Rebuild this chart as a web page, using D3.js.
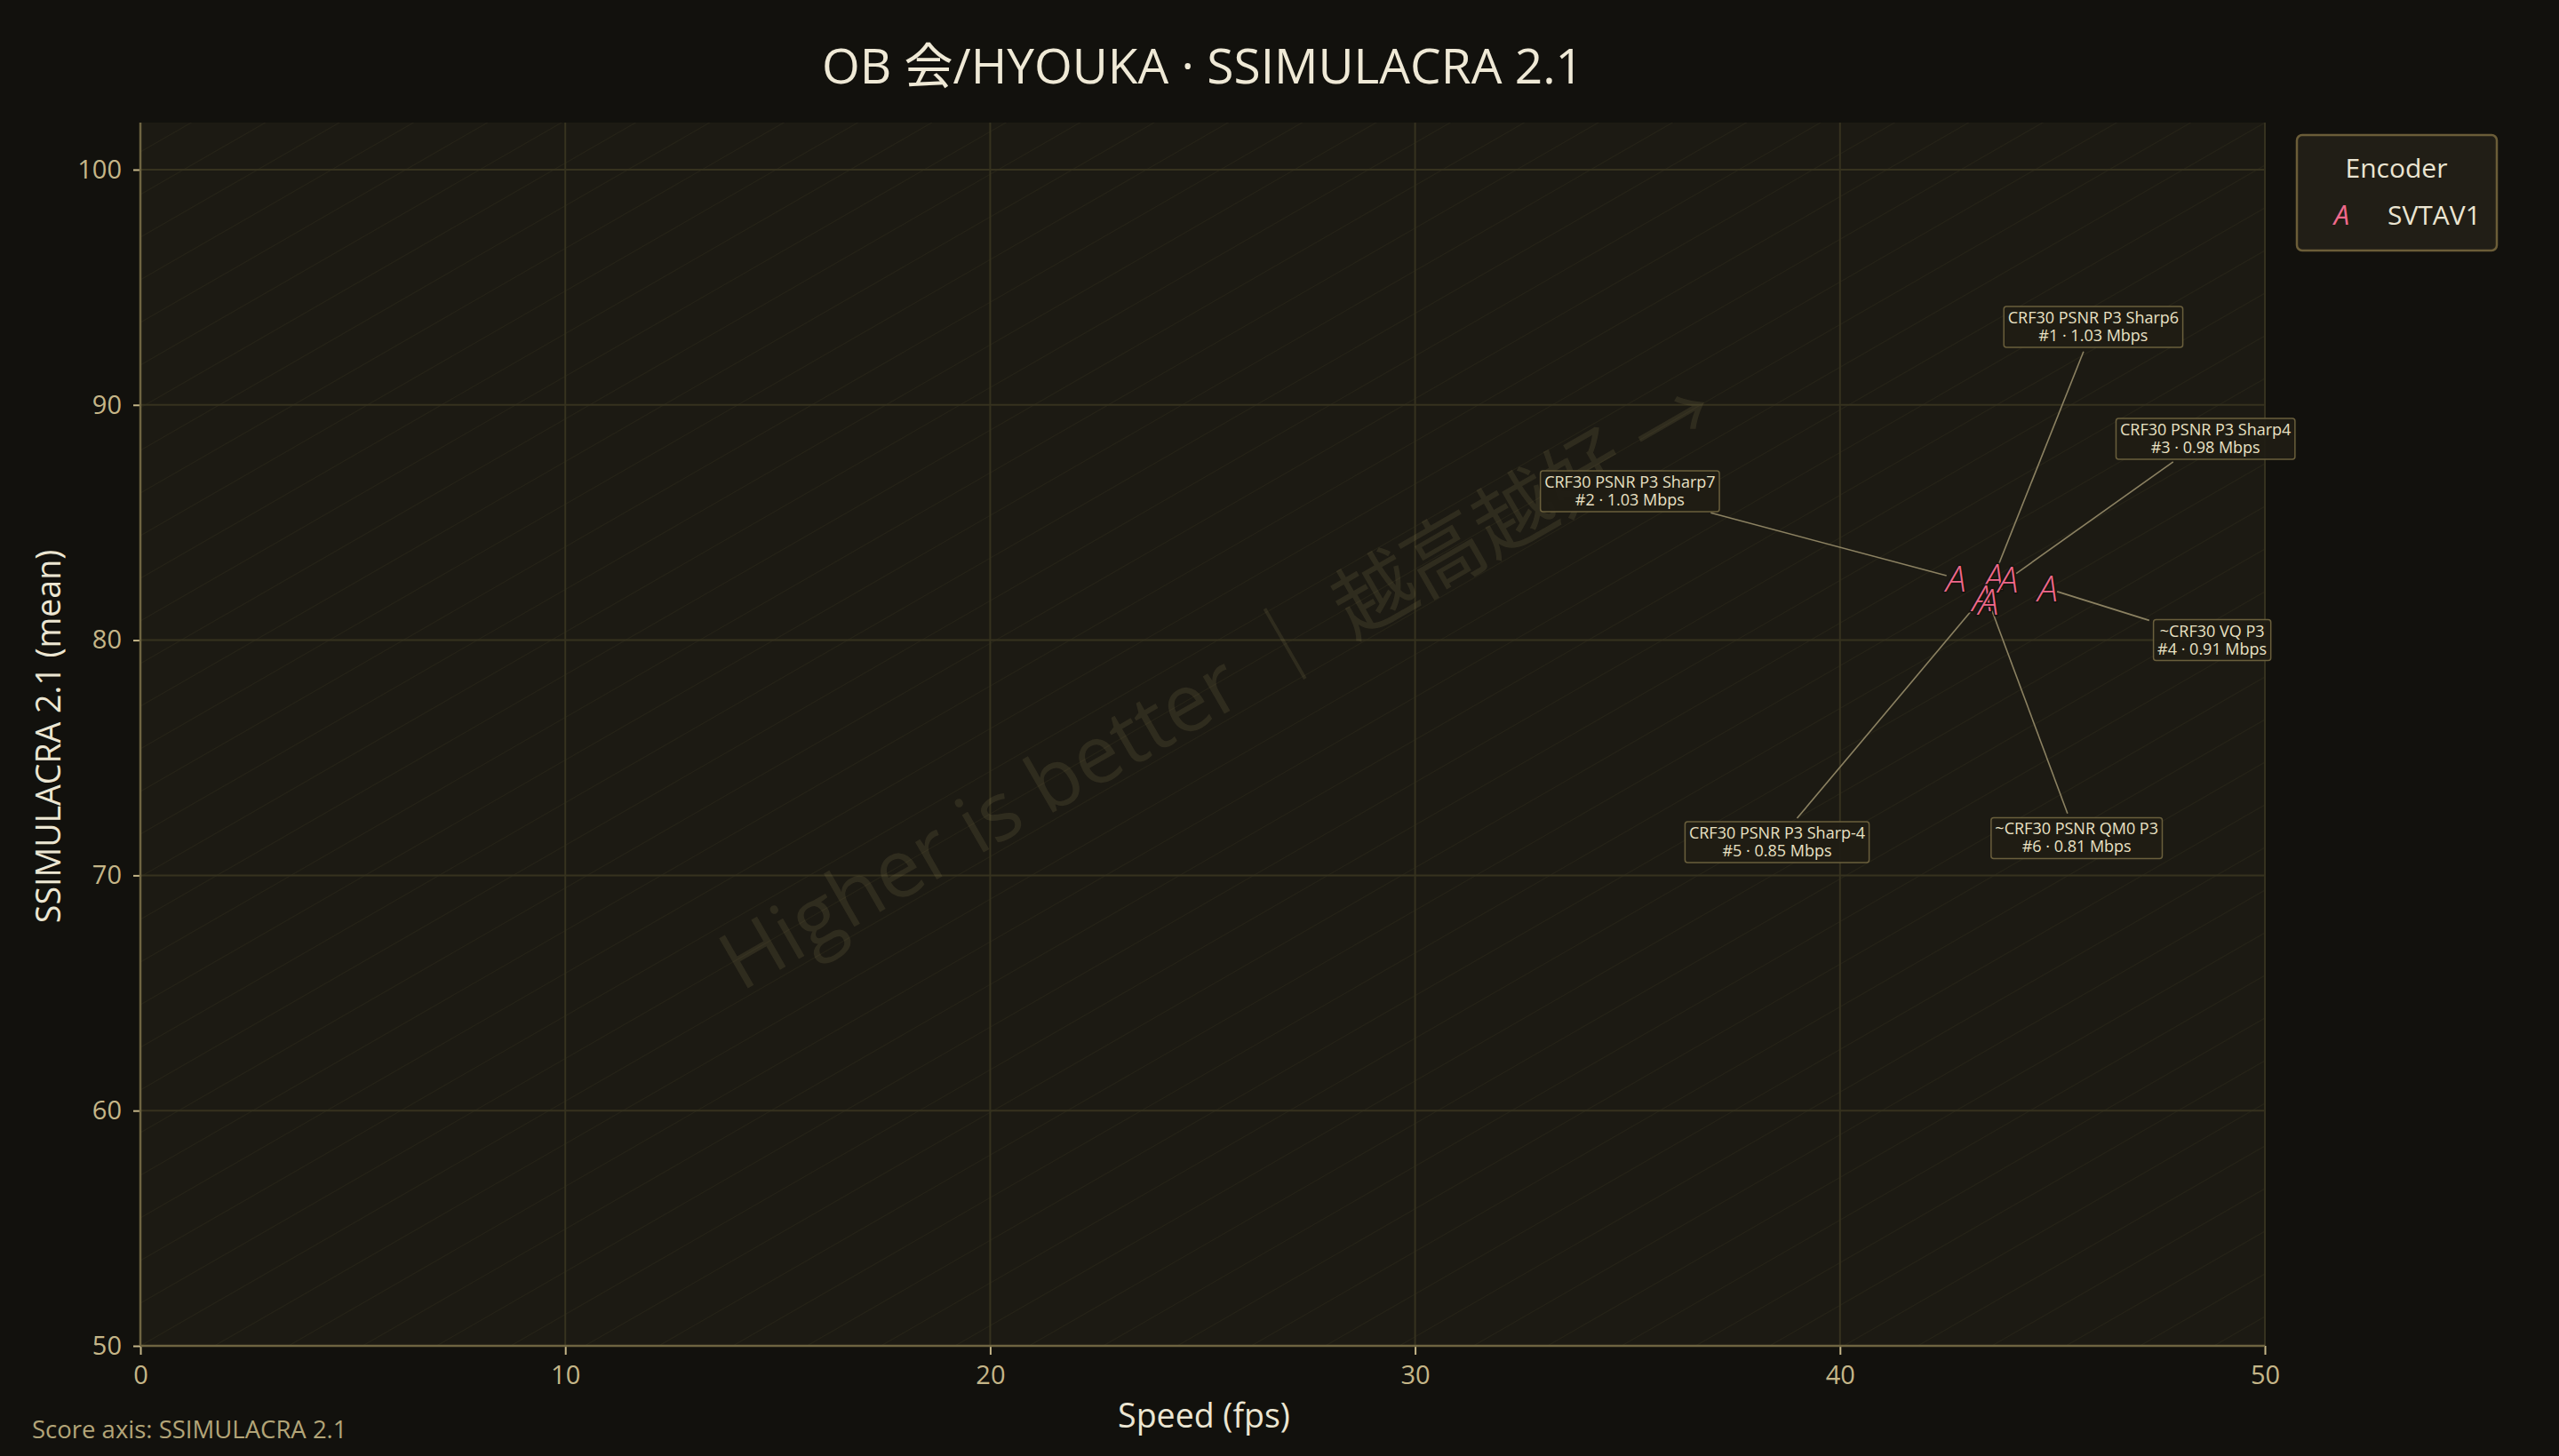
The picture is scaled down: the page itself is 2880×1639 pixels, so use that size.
<!DOCTYPE html>
<html><head><meta charset="utf-8">
<script src="https://cdn.jsdelivr.net/npm/d3@7"></script>
<style>html,body{margin:0;padding:0;background:#12110d;} svg{display:block}</style>
</head><body>
<svg id="chart" width="2880" height="1639"></svg>
<script>
// ---- data ----
const configs  = ["CRF30 PSNR P3 Sharp6","CRF30 PSNR P3 Sharp7","CRF30 PSNR P3 Sharp4","~CRF30 VQ P3","CRF30 PSNR P3 Sharp-4","~CRF30 PSNR QM0 P3"];
const ranks    = [1,2,3,4,5,6];
const speeds   = [43.62,42.73,43.96,44.89,43.35,43.50];
const scores   = [82.70,82.63,82.59,82.19,81.80,81.63];
const bitrates = [1.03,1.03,0.98,0.91,0.85,0.81];
const encoders = ["SVTAV1"];
const xTicks   = [0,10,20,30,40,50];
const yTicks   = [50,60,70,80,90,100];
const xDomain  = [0,50];
const yDomain  = [50,102];
// ---- layout (label box offsets from marker, px) ----
const labelOffsets = [[112,-281],[-367,-98],[222,-158],[185,58],[-231,275],[99,266]];

const W = 2880, H = 1639;
const m = {left:158, right:W-2549, top:138, bottom:H-1515};
const FONT = "'Open Sans','Noto Sans CJK JP','Noto Sans CJK SC',sans-serif";
const svg = d3.select("#chart").attr("font-family", FONT);

svg.append("rect").attr("width",W).attr("height",H).attr("fill","#12110d");

const x = d3.scaleLinear(xDomain,[m.left, W-m.right]);
const y = d3.scaleLinear(yDomain,[H-m.bottom, m.top]);
const pw = W-m.left-m.right, ph = H-m.top-m.bottom;

svg.append("defs").append("clipPath").attr("id","pc")
  .append("rect").attr("x",m.left).attr("y",m.top).attr("width",pw).attr("height",ph);

svg.append("rect").attr("x",m.left).attr("y",m.top).attr("width",pw).attr("height",ph).attr("fill","#1c1a13");

// diagonal hatch
const slope = ph/pw;
const hatch = svg.append("g").attr("clip-path","url(#pc)");
const step = 48;
for(let k=-Math.ceil(ph*2/step); k<=Math.ceil(ph*2/step); k++){
  const y0 = y(yDomain[0]) + k*step;
  hatch.append("line").attr("x1",m.left).attr("y1",y0).attr("x2",m.left+pw).attr("y2",y0-pw*slope)
    .attr("stroke","#3d3826").attr("stroke-opacity",0.3).attr("stroke-width",1.2);
}

// grid
const grid = svg.append("g");
grid.selectAll(".gx").data(xTicks).join("line")
  .attr("x1",d=>x(d)).attr("x2",d=>x(d)).attr("y1",m.top).attr("y2",H-m.bottom)
  .attr("stroke","#36321f").attr("stroke-width",2);
grid.selectAll(".gy").data(yTicks).join("line")
  .attr("y1",d=>y(d)).attr("y2",d=>y(d)).attr("x1",m.left).attr("x2",W-m.right)
  .attr("stroke","#36321f").attr("stroke-width",2);

// watermark
const ang = Math.atan2(ph,pw)*180/Math.PI;
svg.append("g").attr("clip-path","url(#pc)")
  .append("text")
  .attr("transform",`translate(1386,799) rotate(${-ang})`)
  .attr("text-anchor","middle").attr("font-size",91)
  .attr("fill","#8a7d55").attr("fill-opacity",0.18)
  .text("Higher is better ｜ 越高越好 →");

// axes
const ax = svg.append("g").attr("transform",`translate(0,${H-m.bottom})`)
  .call(d3.axisBottom(x).tickValues(xTicks).tickSize(10).tickPadding(12).tickSizeOuter(0));
const ay = svg.append("g").attr("transform",`translate(${m.left},0)`)
  .call(d3.axisLeft(y).tickValues(yTicks).tickSize(8).tickPadding(13).tickSizeOuter(0));
[ax,ay].forEach(g=>{
  g.select(".domain").remove();
  g.selectAll(".tick line").attr("stroke","#c5b688").attr("stroke-width",2);
  g.selectAll(".tick text").attr("fill","#c5b688").attr("font-size",29).attr("font-family",FONT);
});
// spines
svg.append("line").attr("x1",m.left).attr("x2",m.left).attr("y1",m.top).attr("y2",H-m.bottom)
  .attr("stroke","#6e6441").attr("stroke-width",2.5);
svg.append("line").attr("x1",m.left).attr("x2",W-m.right).attr("y1",H-m.bottom).attr("y2",H-m.bottom)
  .attr("stroke","#6e6441").attr("stroke-width",2.5);

// titles
svg.append("text").attr("x",(m.left+W-m.right)/2).attr("y",94).attr("text-anchor","middle")
  .attr("font-size",55).attr("fill","#efe9d6").text("OB 会/HYOUKA · SSIMULACRA 2.1");
svg.append("text").attr("x",1355).attr("y",1607).attr("text-anchor","middle")
  .attr("font-size",37.5).attr("fill","#ece6d2").text("Speed (fps)");
svg.append("text").attr("transform","translate(68,829) rotate(-90)").attr("text-anchor","middle")
  .attr("font-size",37.5).attr("fill","#ece6d2").text("SSIMULACRA 2.1 (mean)");
svg.append("text").attr("x",36).attr("y",1619)
  .attr("font-size",27.5).attr("fill","#b3a578").text("Score axis: SSIMULACRA 2.1");

// points
const pts = ranks.map((r,i)=>({rank:r, cfg:configs[i], sp:speeds[i], sc:scores[i], br:bitrates[i],
  px:x(speeds[i]), py:y(scores[i]), off:labelOffsets[i]}));

const leaders = svg.append("g");
const markers = svg.append("g");
const boxes = svg.append("g");

pts.forEach(p=>{
  const cx = p.px+p.off[0], cy = p.py+p.off[1];
  const g = boxes.append("g");
  const r = g.append("rect");
  const t1 = g.append("text").attr("x",cx).attr("y",cy-4).attr("text-anchor","middle")
    .attr("font-size",18).attr("fill","#e9e1c4").text(p.cfg);
  const t2 = g.append("text").attr("x",cx).attr("y",cy+16).attr("text-anchor","middle")
    .attr("font-size",18).attr("fill","#e9e1c4").text(`#${p.rank} · ${p.br.toFixed(2)} Mbps`);
  const tw = Math.max(t1.node().getComputedTextLength(), t2.node().getComputedTextLength());
  const bw = tw+9, bh = 46;
  r.attr("x",cx-bw/2).attr("y",cy-bh/2).attr("width",bw).attr("height",bh).attr("rx",3)
    .attr("fill","#1f1c14").attr("fill-opacity",0.92).attr("stroke","#6a5f3c").attr("stroke-width",1.5);
  // leader
  const dx = p.px-cx, dy = p.py-cy, L = Math.hypot(dx,dy), ux=dx/L, uy=dy/L;
  const t = Math.min((bw/2)/Math.abs(dx||1e-9),(bh/2)/Math.abs(dy||1e-9));
  const sx = cx+dx*t+ux*5, sy = cy+dy*t+uy*5;
  const ex = p.px-ux*11, ey = p.py-uy*11;
  leaders.append("line").attr("x1",sx).attr("y1",sy).attr("x2",ex).attr("y2",ey)
    .attr("stroke","#8c8262").attr("stroke-width",1.6);
  markers.append("text").attr("x",p.px).attr("y",p.py).attr("dy","0.36em").attr("text-anchor","middle")
    .attr("font-size",41).attr("font-style","italic").attr("font-weight",300).attr("fill","#f0698b")
    .attr("stroke","#15130e").attr("stroke-width",3).attr("paint-order","stroke").text("A");
});

// legend
const lg = svg.append("g");
lg.append("rect").attr("x",2585).attr("y",152).attr("width",225).attr("height",130).attr("rx",6)
  .attr("fill","#211e16").attr("stroke","#6b5d38").attr("stroke-width",2.5);
lg.append("text").attr("x",2697).attr("y",200).attr("text-anchor","middle").attr("font-size",30)
  .attr("fill","#ebe5d2").text("Encoder");
lg.selectAll(".li").data(encoders).join("g").each(function(d,i){
  const g = d3.select(this);
  g.append("text").attr("x",2635.5).attr("y",253+i*40).attr("text-anchor","middle").attr("font-size",31)
    .attr("font-style","italic").attr("fill","#f0698b").text("A");
  g.append("text").attr("x",2687).attr("y",253+i*40).attr("font-size",30).attr("fill","#ebe5d2").text(d);
});
</script>
</body></html>
